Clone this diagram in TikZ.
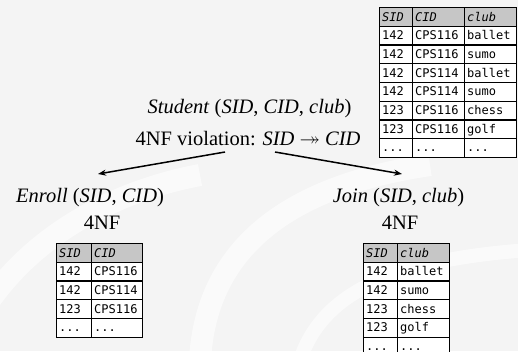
\documentclass[tikz,border=0pt]{standalone}
\usepackage{amssymb}
\usepackage{fontspec}
\setmainfont{Liberation Serif}
\setmonofont{DejaVu Sans Mono}
\usetikzlibrary{arrows.meta}
\definecolor{bggray}{HTML}{F4F4F4}
\definecolor{hdrgray}{HTML}{C6C6C6}
\tikzset{
  lbl/.style={font=\fontsize{20.5}{24}\selectfont, inner sep=0pt, anchor=base},
  cellnode/.style={draw=black, line width=1.3pt, anchor=north west, inner xsep=2.5pt, inner ysep=0pt,
    minimum height=18.7pt, text height=8.8pt, text depth=0.7pt, align=left,
    font=\fontsize{12}{14}\selectfont\ttfamily, fill=white},
  hdr/.style={fill=hdrgray, font=\fontsize{12}{14}\selectfont\ttfamily\itshape},
  arr/.style={line width=1.5pt, -{Stealth[length=8pt,width=6pt]}},
  swirl/.style={white, line width=22pt, opacity=0.6},
}
\newcommand\tcell[6]{%
  \pgfmathsetmacro\cellw{#3-#2-5}%
  \node[cellnode, text width=\cellw pt, #6] (#1) at (#2,#4) {#5};}
\begin{document}
\begin{tikzpicture}[x=1pt,y=-1pt]
\clip (0,0) rectangle (518,351);
\fill[bggray] (0,0) rectangle (518,351);
% background swirls
\draw[swirl] (200,360) .. controls (205,270) and (260,190) .. (430,165);
\draw[swirl] (-10,300) .. controls (40,230) and (120,190) .. (200,175);
\draw[swirl, line width=14pt] (300,360) .. controls (320,300) and (380,260) .. (530,250);

% labels
\node[lbl] (student) at (249.5,113) {\textit{Student} (\textit{SID}, \textit{CID}, \textit{club})};
\node[lbl] (viol) at (248,145) {4NF violation: \textit{SID} $\twoheadrightarrow$ \textit{CID}};
\node[lbl] (enroll) at (90,202) {\textit{Enroll} (\textit{SID}, \textit{CID})};
\node[lbl] (enf) at (102,229) {4NF};
\node[lbl] (join) at (398.5,202) {\textit{Join} (\textit{SID}, \textit{club})};
\node[lbl] (jnf) at (400,229) {4NF};

% arrows
\coordinate (la) at (225,152);
\coordinate (lb) at (98,174);
\coordinate (ra) at (275,152);
\coordinate (rb) at (402,174);
\draw[arr] (la) -- (lb);
\draw[arr] (ra) -- (rb);

% big table
\tcell{s00}{379}{412}{7}{SID}{hdr}
\tcell{s01}{412}{464}{7}{CID}{hdr}
\tcell{s02}{464}{516}{7}{club}{hdr}
\tcell{s10}{379}{412}{25.7}{142}{}
\tcell{s11}{412}{464}{25.7}{CPS116}{}
\tcell{s12}{464}{516}{25.7}{ballet}{}
\tcell{s20}{379}{412}{44.4}{142}{}
\tcell{s21}{412}{464}{44.4}{CPS116}{}
\tcell{s22}{464}{516}{44.4}{sumo}{}
\tcell{s30}{379}{412}{63.1}{142}{}
\tcell{s31}{412}{464}{63.1}{CPS114}{}
\tcell{s32}{464}{516}{63.1}{ballet}{}
\tcell{s40}{379}{412}{81.8}{142}{}
\tcell{s41}{412}{464}{81.8}{CPS114}{}
\tcell{s42}{464}{516}{81.8}{sumo}{}
\tcell{s50}{379}{412}{100.5}{123}{}
\tcell{s51}{412}{464}{100.5}{CPS116}{}
\tcell{s52}{464}{516}{100.5}{chess}{}
\tcell{s60}{379}{412}{119.2}{123}{}
\tcell{s61}{412}{464}{119.2}{CPS116}{}
\tcell{s62}{464}{516}{119.2}{golf}{}
\tcell{s70}{379}{412}{137.9}{...}{}
\tcell{s71}{412}{464}{137.9}{...}{}
\tcell{s72}{464}{516}{137.9}{...}{}

% enroll table
\tcell{e00}{56}{91}{243}{SID}{hdr}
\tcell{e01}{91}{142}{243}{CID}{hdr}
\tcell{e10}{56}{91}{261.7}{142}{}
\tcell{e11}{91}{142}{261.7}{CPS116}{}
\tcell{e20}{56}{91}{280.4}{142}{}
\tcell{e21}{91}{142}{280.4}{CPS114}{}
\tcell{e30}{56}{91}{299.1}{123}{}
\tcell{e31}{91}{142}{299.1}{CPS116}{}
\tcell{e40}{56}{91}{317.8}{...}{}
\tcell{e41}{91}{142}{317.8}{...}{}

% join table
\tcell{j00}{363}{397}{243}{SID}{hdr}
\tcell{j01}{397}{449}{243}{club}{hdr}
\tcell{j10}{363}{397}{261.7}{142}{}
\tcell{j11}{397}{449}{261.7}{ballet}{}
\tcell{j20}{363}{397}{280.4}{142}{}
\tcell{j21}{397}{449}{280.4}{sumo}{}
\tcell{j30}{363}{397}{299.1}{123}{}
\tcell{j31}{397}{449}{299.1}{chess}{}
\tcell{j40}{363}{397}{317.8}{123}{}
\tcell{j41}{397}{449}{317.8}{golf}{}
\tcell{j50}{363}{397}{336.5}{...}{}
\tcell{j51}{397}{449}{336.5}{...}{}
\end{tikzpicture}
\end{document}
